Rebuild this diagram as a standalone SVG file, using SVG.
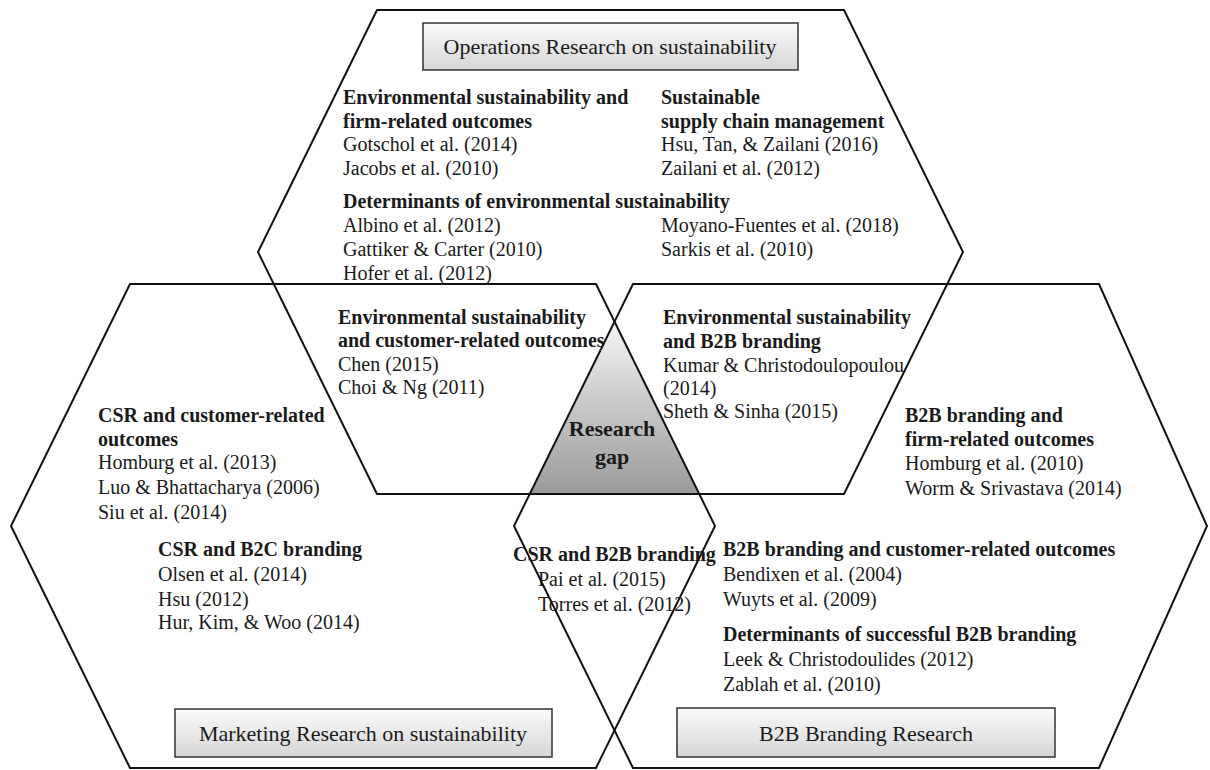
<svg xmlns="http://www.w3.org/2000/svg" width="1210" height="770" viewBox="0 0 1210 770">
<defs>
<linearGradient id="gapGrad" x1="0" y1="0" x2="0" y2="1">
<stop offset="0" stop-color="#f4f4f4"/>
<stop offset="1" stop-color="#9a9a9a"/>
</linearGradient>
<linearGradient id="boxGrad" x1="0" y1="0" x2="0" y2="1">
<stop offset="0" stop-color="#fafafa"/>
<stop offset="1" stop-color="#d6d6d6"/>
</linearGradient>
</defs>
<style>
.hex{fill:none;stroke:#111;stroke-width:2;stroke-linejoin:miter}
.box{fill:url(#boxGrad);stroke:#333;stroke-width:1.5}
text{font-family:"Liberation Serif","Times New Roman",serif;font-size:20px;fill:#1a1a1a}
.b{font-weight:bold}
.title{font-size:22px;text-anchor:middle}
.gap{font-size:22px;font-weight:bold;text-anchor:middle}
</style>
<rect width="1210" height="770" fill="#fff"/>
<g id="research-gap">
<polygon points="614,322 530,494 699,494" fill="url(#gapGrad)"/>
<text class="gap" x="612" y="436">Research</text>
<text class="gap" x="612" y="464">gap</text>
</g>
<g id="operations-research">
<polygon class="hex" points="377,10 844,10 963,252 844,494 377,494 258,252"/>
<rect class="box" x="423" y="23" width="375" height="47"/>
<text class="title" x="610" y="54">Operations Research on sustainability</text>
<text class="b" x="343" y="104">Environmental sustainability and</text>
<text class="b" x="343" y="128">firm-related outcomes</text>
<text x="343" y="151">Gotschol et al. (2014)</text>
<text x="343" y="175">Jacobs et al. (2010)</text>
<text class="b" x="661" y="104">Sustainable</text>
<text class="b" x="661" y="128">supply chain management</text>
<text x="661" y="151">Hsu, Tan, &amp; Zailani (2016)</text>
<text x="661" y="175">Zailani et al. (2012)</text>
<text class="b" x="343" y="208">Determinants of environmental sustainability</text>
<text x="343" y="232">Albino et al. (2012)</text>
<text x="343" y="256">Gattiker &amp; Carter (2010)</text>
<text x="343" y="280">Hofer et al. (2012)</text>
<text x="661" y="232">Moyano-Fuentes et al. (2018)</text>
<text x="661" y="256">Sarkis et al. (2010)</text>
</g>
<g id="ops-marketing-overlap">
<text class="b" x="338" y="324">Environmental sustainability</text>
<text class="b" x="338" y="347">and customer-related outcomes</text>
<text x="338" y="371">Chen (2015)</text>
<text x="338" y="394">Choi &amp; Ng (2011)</text>
</g>
<g id="ops-b2b-overlap">
<text class="b" x="663" y="324">Environmental sustainability</text>
<text class="b" x="663" y="348">and B2B branding</text>
<text x="663" y="372">Kumar &amp; Christodoulopoulou</text>
<text x="663" y="395">(2014)</text>
<text x="663" y="418">Sheth &amp; Sinha (2015)</text>
</g>
<g id="marketing-research">
<polygon class="hex" points="130,284 596,284 715,526 596,768 130,768 11,526"/>
<rect class="box" x="175" y="709" width="377" height="48"/>
<text class="title" x="363" y="741">Marketing Research on sustainability</text>
<text class="b" x="98" y="422">CSR and customer-related</text>
<text class="b" x="98" y="446">outcomes</text>
<text x="98" y="469">Homburg et al. (2013)</text>
<text x="98" y="494">Luo &amp; Bhattacharya (2006)</text>
<text x="98" y="519">Siu et al. (2014)</text>
<text class="b" x="158" y="556">CSR and B2C branding</text>
<text x="158" y="581">Olsen et al. (2014)</text>
<text x="158" y="606">Hsu (2012)</text>
<text x="158" y="629">Hur, Kim, &amp; Woo (2014)</text>
</g>
<g id="marketing-b2b-overlap">
<text class="b" x="513" y="561">CSR and B2B branding</text>
<text x="538" y="586">Pai et al. (2015)</text>
<text x="538" y="611">Torres et al. (2012)</text>
</g>
<g id="b2b-branding-research">
<polygon class="hex" points="633,284 1099,284 1207,526 1099,768 633,768 514,526"/>
<rect class="box" x="677" y="708" width="378" height="49"/>
<text class="title" x="866" y="741">B2B Branding Research</text>
<text class="b" x="905" y="422">B2B branding and</text>
<text class="b" x="905" y="446">firm-related outcomes</text>
<text x="905" y="470">Homburg et al. (2010)</text>
<text x="905" y="495">Worm &amp; Srivastava (2014)</text>
<text class="b" x="723" y="556">B2B branding and customer-related outcomes</text>
<text x="723" y="581">Bendixen et al. (2004)</text>
<text x="723" y="606">Wuyts et al. (2009)</text>
<text class="b" x="723" y="641">Determinants of successful B2B branding</text>
<text x="723" y="666">Leek &amp; Christodoulides (2012)</text>
<text x="723" y="691">Zablah et al. (2010)</text>
</g>
<g id="connectors"/>
</svg>
